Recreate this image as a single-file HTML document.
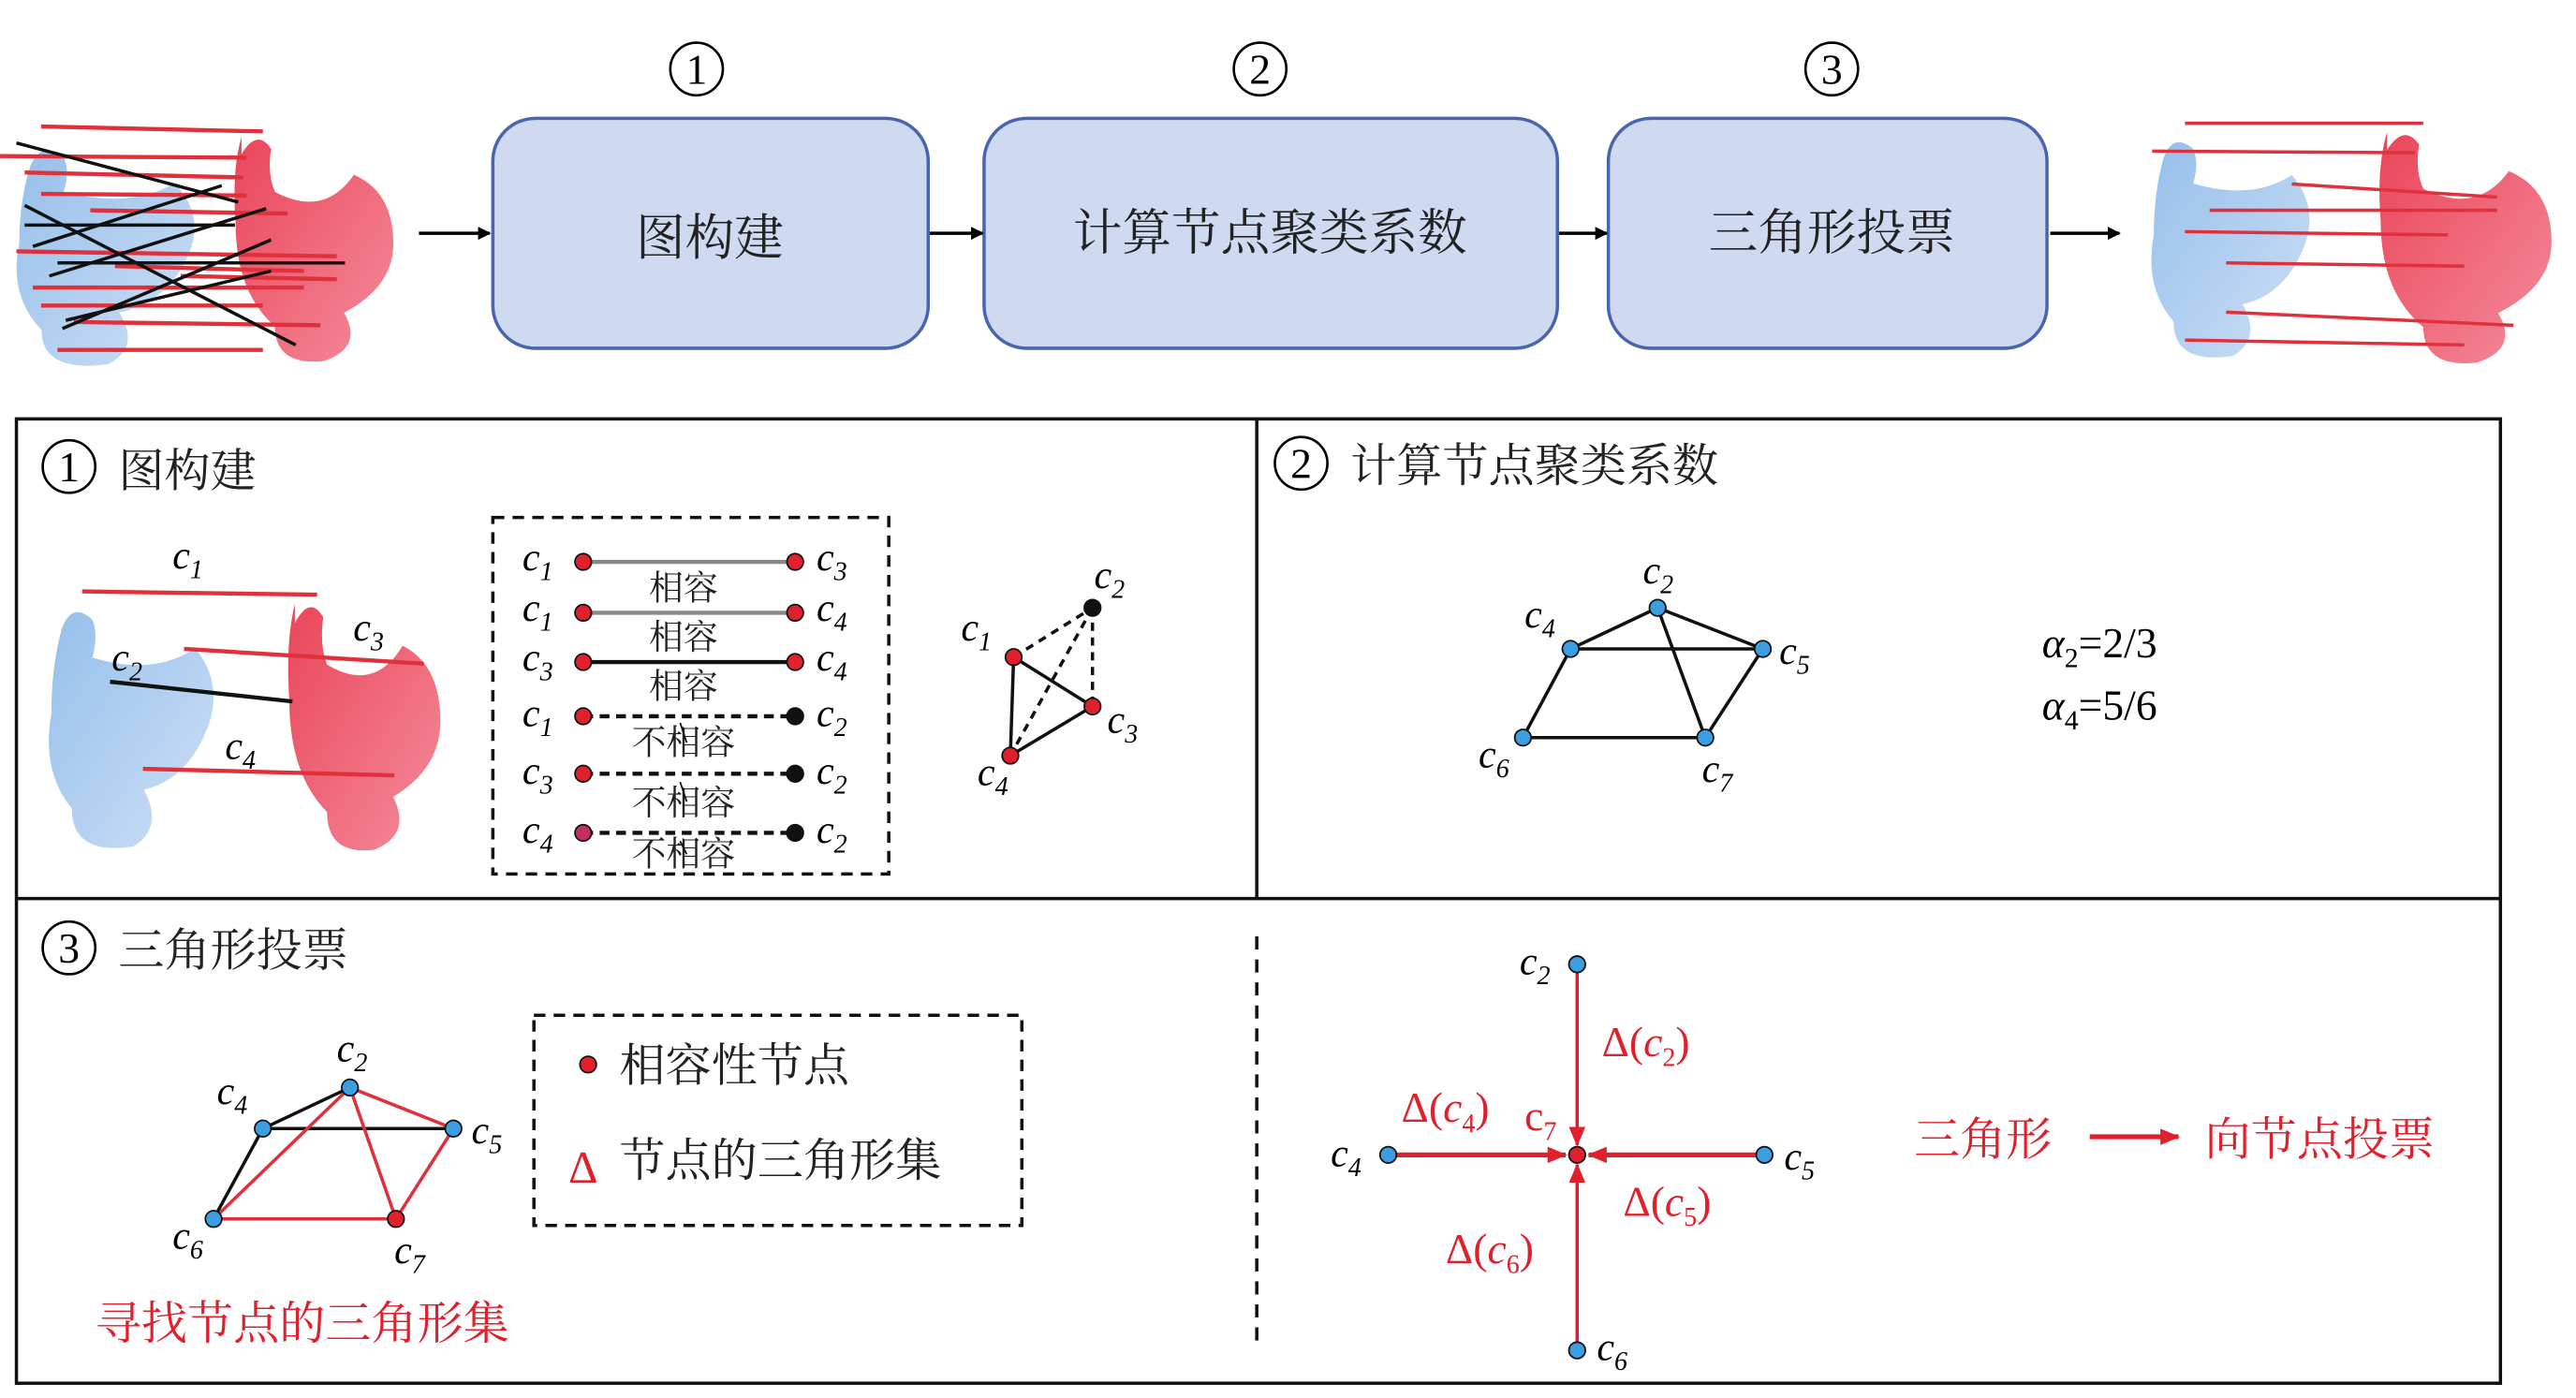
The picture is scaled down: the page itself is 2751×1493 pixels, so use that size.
<!DOCTYPE html>
<html><head><meta charset="utf-8"><style>
html,body{margin:0;padding:0;background:#fff;}
svg{display:block;}
text{font-family:"Liberation Serif","Noto Serif CJK SC",serif;}
.cj{font-family:"Liberation Serif","Noto Serif CJK SC",serif;}
.it{font-style:italic;}
</style></head><body>
<svg width="2751" height="1493" viewBox="0 0 1568 851" preserveAspectRatio="none" xmlns="http://www.w3.org/2000/svg">
<defs>
<marker id="ab" markerWidth="8" markerHeight="8" refX="7" refY="4" orient="auto" markerUnits="userSpaceOnUse"><path d="M0,0 L8,4 L0,8 Z" fill="#000"/></marker>
<marker id="ar" markerWidth="12" markerHeight="10" refX="11" refY="5" orient="auto" markerUnits="userSpaceOnUse"><path d="M0,0 L12,5 L0,10 Z" fill="#e0202c"/></marker>
<linearGradient id="gb" x1="0" y1="0" x2="1" y2="1"><stop offset="0" stop-color="#8ab8e8"/><stop offset="1" stop-color="#c8dcf4"/></linearGradient>
<linearGradient id="gr" x1="0" y1="0" x2="1" y2="1"><stop offset="0" stop-color="#e83048"/><stop offset="1" stop-color="#f28090"/></linearGradient>
<g id="chb"><path d="M10,20 q5,-15 15,-5 q3,8 0,20 q30,10 50,-5 q15,20 5,45 q-10,25 -30,30 q10,20 -5,30 q-30,5 -30,-20 q-15,-20 -10,-50 q0,-25 5,-45z" fill="url(#gb)" opacity="0.9"/></g>
<g id="chr"><path d="M10,15 q8,-15 15,-3 q-2,15 2,25 q25,15 40,-10 q20,10 20,40 q0,25 -25,40 q10,20 -10,28 q-25,3 -25,-20 q-20,-20 -20,-60 q-2,-30 3,-50z" fill="url(#gr)" opacity="0.9"/></g>
</defs>

<!-- TOP ROW -->
<g font-size="26" text-anchor="middle">
<circle cx="424" cy="42" r="16" fill="none" stroke="#000" stroke-width="1.5"/><text x="424" y="51">1</text>
<circle cx="767" cy="42" r="16" fill="none" stroke="#000" stroke-width="1.5"/><text x="767" y="51">2</text>
<circle cx="1115" cy="42" r="16" fill="none" stroke="#000" stroke-width="1.5"/><text x="1115" y="51">3</text>
</g>
<g fill="#cfdaf1" stroke="#4a64ad" stroke-width="2">
<rect x="300" y="72" width="265" height="140" rx="26"/>
<rect x="599" y="72" width="349" height="140" rx="26"/>
<rect x="979" y="72" width="267" height="140" rx="26"/>
</g>
<g class="cj" font-size="30" text-anchor="middle" fill="#222">
<text x="432" y="155">图构建</text>
<text x="773" y="152">计算节点聚类系数</text>
<text x="1115" y="152">三角形投票</text>
</g>
<g stroke="#000" stroke-width="2" marker-end="url(#ab)">
<line x1="255" y1="142" x2="298" y2="142"/>
<line x1="566" y1="142" x2="598" y2="142"/>
<line x1="949" y1="142" x2="978" y2="142"/>
<line x1="1248" y1="142" x2="1290" y2="142"/>
</g>

<!-- left chickens top -->
<use href="#chb" transform="translate(5,80) scale(1.35,1.05)"/>
<use href="#chr" transform="translate(135,78) scale(1.2,1.05)"/>
<g stroke="#e0303c" stroke-width="2.5">
<line x1="25" y1="77" x2="160" y2="80"/><line x1="0" y1="95" x2="150" y2="96"/>
<line x1="15" y1="105" x2="148" y2="108"/><line x1="25" y1="118" x2="150" y2="119"/>
<line x1="55" y1="128" x2="175" y2="130"/><line x1="10" y1="153" x2="205" y2="156"/>
<line x1="70" y1="162" x2="185" y2="165"/><line x1="20" y1="175" x2="185" y2="175"/>
<line x1="25" y1="186" x2="160" y2="186"/><line x1="45" y1="196" x2="195" y2="198"/>
<line x1="35" y1="213" x2="160" y2="213"/><line x1="110" y1="168" x2="205" y2="170"/>
</g>
<g stroke="#111" stroke-width="2">
<line x1="10" y1="87" x2="145" y2="123"/><line x1="15" y1="125" x2="180" y2="210"/>
<line x1="20" y1="150" x2="135" y2="113"/><line x1="15" y1="137" x2="143" y2="137"/>
<line x1="30" y1="168" x2="162" y2="127"/><line x1="35" y1="160" x2="210" y2="160"/>
<line x1="38" y1="200" x2="165" y2="146"/><line x1="40" y1="195" x2="165" y2="165"/>
</g>

<!-- right chickens top -->
<use href="#chb" transform="translate(1305,75) scale(1.2,1.05)"/>
<use href="#chr" transform="translate(1440,75) scale(1.3,1.08)"/>
<g stroke="#e0303c" stroke-width="2">
<line x1="1330" y1="75" x2="1475" y2="75"/><line x1="1310" y1="92" x2="1470" y2="93"/>
<line x1="1395" y1="112" x2="1520" y2="120"/><line x1="1345" y1="128" x2="1520" y2="128"/>
<line x1="1330" y1="141" x2="1490" y2="143"/><line x1="1355" y1="160" x2="1500" y2="162"/>
<line x1="1355" y1="190" x2="1530" y2="198"/><line x1="1330" y1="207" x2="1500" y2="210"/>
</g>

<!-- BOTTOM FRAME -->
<rect x="10" y="255" width="1512" height="587" fill="none" stroke="#111" stroke-width="2"/>
<line x1="765" y1="255" x2="765" y2="547" stroke="#111" stroke-width="2"/>
<line x1="10" y1="547" x2="1522" y2="547" stroke="#111" stroke-width="2"/>
<line x1="765" y1="570" x2="765" y2="820" stroke="#111" stroke-width="2" stroke-dasharray="8,6"/>

<!-- Panel 1 -->
<circle cx="42" cy="284" r="16" fill="none" stroke="#000" stroke-width="1.5"/><text x="42" y="293" font-size="26" text-anchor="middle">1</text>
<text class="cj" x="72" y="296" font-size="28" fill="#222">图构建</text>
<use href="#chb" transform="translate(25,360) scale(1.25,1.15)"/>
<use href="#chr" transform="translate(168,362) scale(1.15,1.15)"/>
<g stroke="#e0303c" stroke-width="2.5">
<line x1="50" y1="360" x2="193" y2="362"/><line x1="112" y1="395" x2="258" y2="404"/><line x1="87" y1="468" x2="240" y2="472"/>
</g>
<line x1="67" y1="415" x2="178" y2="427" stroke="#111" stroke-width="2.5"/>
<g font-size="24" class="it">
<text x="105" y="346">c<tspan font-size="16" dy="6">1</tspan></text>
<text x="68" y="408">c<tspan font-size="16" dy="6">2</tspan></text>
<text x="215" y="390">c<tspan font-size="16" dy="6">3</tspan></text>
<text x="137" y="462">c<tspan font-size="16" dy="6">4</tspan></text>
</g>
<rect x="300" y="315" width="241" height="217" fill="none" stroke="#111" stroke-width="2" stroke-dasharray="7,5"/>
<g stroke-width="2.5">
<line x1="355" y1="342" x2="484" y2="342" stroke="#888"/>
<line x1="355" y1="373" x2="484" y2="373" stroke="#888"/>
<line x1="355" y1="403" x2="484" y2="403" stroke="#111"/>
<line x1="355" y1="436" x2="484" y2="436" stroke="#111" stroke-dasharray="6,4"/>
<line x1="355" y1="471" x2="484" y2="471" stroke="#111" stroke-dasharray="6,4"/>
<line x1="355" y1="507" x2="484" y2="507" stroke="#111" stroke-dasharray="6,4"/>
</g>
<g stroke="#111" stroke-width="1">
<circle cx="355" cy="342" r="5" fill="#e0202c"/><circle cx="484" cy="342" r="5" fill="#e0202c"/>
<circle cx="355" cy="373" r="5" fill="#e0202c"/><circle cx="484" cy="373" r="5" fill="#e0202c"/>
<circle cx="355" cy="403" r="5" fill="#e0202c"/><circle cx="484" cy="403" r="5" fill="#e0202c"/>
<circle cx="355" cy="436" r="5" fill="#e0202c"/><circle cx="484" cy="436" r="5" fill="#111"/>
<circle cx="355" cy="471" r="5" fill="#e0202c"/><circle cx="484" cy="471" r="5" fill="#111"/>
<circle cx="355" cy="507" r="5" fill="#c03060"/><circle cx="484" cy="507" r="5" fill="#111"/>
</g>
<g font-size="24" class="it">
<text x="318" y="347">c<tspan font-size="16" dy="6">1</tspan></text><text x="497" y="347">c<tspan font-size="16" dy="6">3</tspan></text>
<text x="318" y="378">c<tspan font-size="16" dy="6">1</tspan></text><text x="497" y="378">c<tspan font-size="16" dy="6">4</tspan></text>
<text x="318" y="408">c<tspan font-size="16" dy="6">3</tspan></text><text x="497" y="408">c<tspan font-size="16" dy="6">4</tspan></text>
<text x="318" y="442">c<tspan font-size="16" dy="6">1</tspan></text><text x="497" y="442">c<tspan font-size="16" dy="6">2</tspan></text>
<text x="318" y="477">c<tspan font-size="16" dy="6">3</tspan></text><text x="497" y="477">c<tspan font-size="16" dy="6">2</tspan></text>
<text x="318" y="513">c<tspan font-size="16" dy="6">4</tspan></text><text x="497" y="513">c<tspan font-size="16" dy="6">2</tspan></text>
</g>
<g class="cj" font-size="21" text-anchor="middle" fill="#222">
<text x="416" y="365">相容</text><text x="416" y="395">相容</text><text x="416" y="425">相容</text>
<text x="416" y="459">不相容</text><text x="416" y="496">不相容</text><text x="416" y="527">不相容</text>
</g>
<g stroke="#111" stroke-width="1"><line x1="414" y1="440" x2="418" y2="452"/><line x1="414" y1="476" x2="418" y2="488"/><line x1="414" y1="512" x2="418" y2="520"/></g>
<!-- triangle -->
<g stroke="#111" stroke-width="2">
<line x1="617" y1="400" x2="665" y2="430"/><line x1="665" y1="430" x2="615" y2="460"/><line x1="617" y1="400" x2="615" y2="460"/>
<g stroke-dasharray="5,4"><line x1="617" y1="400" x2="665" y2="370"/><line x1="665" y1="370" x2="665" y2="430"/><line x1="665" y1="370" x2="615" y2="460"/></g>
</g>
<g stroke="#111" stroke-width="1">
<circle cx="665" cy="370" r="5" fill="#111"/><circle cx="617" cy="400" r="5" fill="#e0202c"/>
<circle cx="665" cy="430" r="5" fill="#e0202c"/><circle cx="615" cy="460" r="5" fill="#e0202c"/>
</g>
<g font-size="24" class="it">
<text x="666" y="358">c<tspan font-size="16" dy="6">2</tspan></text>
<text x="585" y="390">c<tspan font-size="16" dy="6">1</tspan></text>
<text x="674" y="446">c<tspan font-size="16" dy="6">3</tspan></text>
<text x="595" y="478">c<tspan font-size="16" dy="6">4</tspan></text>
</g>

<!-- Panel 2 -->
<circle cx="792" cy="282" r="16" fill="none" stroke="#000" stroke-width="1.5"/><text x="792" y="291" font-size="26" text-anchor="middle">2</text>
<text class="cj" x="822" y="293" font-size="28" fill="#222">计算节点聚类系数</text>
<g stroke="#111" stroke-width="2">
<line x1="956" y1="395" x2="1009" y2="370"/><line x1="1009" y1="370" x2="1073" y2="395"/><line x1="956" y1="395" x2="1073" y2="395"/>
<line x1="956" y1="395" x2="927" y2="449"/><line x1="927" y1="449" x2="1038" y2="449"/><line x1="1038" y1="449" x2="1073" y2="395"/><line x1="1009" y1="370" x2="1038" y2="449"/>
</g>
<g fill="#3b9ee0" stroke="#111" stroke-width="1">
<circle cx="1009" cy="370" r="5"/><circle cx="956" cy="395" r="5"/><circle cx="1073" cy="395" r="5"/><circle cx="927" cy="449" r="5"/><circle cx="1038" cy="449" r="5"/>
</g>
<g font-size="24" class="it">
<text x="1000" y="355">c<tspan font-size="16" dy="6">2</tspan></text>
<text x="928" y="382">c<tspan font-size="16" dy="6">4</tspan></text>
<text x="1083" y="404">c<tspan font-size="16" dy="6">5</tspan></text>
<text x="900" y="467">c<tspan font-size="16" dy="6">6</tspan></text>
<text x="1036" y="476">c<tspan font-size="16" dy="6">7</tspan></text>
</g>
<g font-size="26">
<text x="1243" y="400"><tspan class="it">α</tspan><tspan font-size="17" dy="6">2</tspan><tspan dy="-6">=2/3</tspan></text>
<text x="1243" y="438"><tspan class="it">α</tspan><tspan font-size="17" dy="6">4</tspan><tspan dy="-6">=5/6</tspan></text>
</g>

<!-- Panel 3 -->
<circle cx="42" cy="577" r="16" fill="none" stroke="#000" stroke-width="1.5"/><text x="42" y="586" font-size="26" text-anchor="middle">3</text>
<text class="cj" x="72" y="588" font-size="28" fill="#222">三角形投票</text>
<g stroke-width="2">
<line x1="160" y1="687" x2="213" y2="662" stroke="#111"/><line x1="160" y1="687" x2="276" y2="687" stroke="#111"/><line x1="160" y1="687" x2="130" y2="742" stroke="#111"/>
<g stroke="#e0303c"><line x1="213" y1="662" x2="276" y2="687"/><line x1="213" y1="662" x2="130" y2="742"/><line x1="213" y1="662" x2="241" y2="742"/><line x1="130" y1="742" x2="241" y2="742"/><line x1="276" y1="687" x2="241" y2="742"/></g>
</g>
<g stroke="#111" stroke-width="1">
<circle cx="213" cy="662" r="5" fill="#3b9ee0"/><circle cx="160" cy="687" r="5" fill="#3b9ee0"/><circle cx="276" cy="687" r="5" fill="#3b9ee0"/><circle cx="130" cy="742" r="5" fill="#3b9ee0"/><circle cx="241" cy="742" r="5" fill="#e0202c"/>
</g>
<g font-size="24" class="it">
<text x="205" y="646">c<tspan font-size="16" dy="6">2</tspan></text>
<text x="132" y="672">c<tspan font-size="16" dy="6">4</tspan></text>
<text x="287" y="696">c<tspan font-size="16" dy="6">5</tspan></text>
<text x="105" y="760">c<tspan font-size="16" dy="6">6</tspan></text>
<text x="240" y="769">c<tspan font-size="16" dy="6">7</tspan></text>
</g>
<text class="cj" x="58" y="815" font-size="28" fill="#e0202c">寻找节点的三角形集</text>
<rect x="325" y="618" width="297" height="128" fill="none" stroke="#111" stroke-width="2" stroke-dasharray="7,5"/>
<circle cx="358" cy="648" r="5" fill="#e0202c" stroke="#111" stroke-width="1"/>
<text class="cj" x="377" y="658" font-size="28" fill="#222">相容性节点</text>
<text x="346" y="720" font-size="28" fill="#e0202c">Δ</text>
<text class="cj" x="377" y="716" font-size="28" fill="#222">节点的三角形集</text>

<g stroke="#e0202c" stroke-width="2" marker-end="url(#ar)">
<line x1="960" y1="587" x2="960" y2="697"/>
<line x1="960" y1="822" x2="960" y2="709"/>
<line x1="845" y1="703" x2="953" y2="703" stroke-width="3"/>
<line x1="1074" y1="703" x2="967" y2="703" stroke-width="3"/>
</g>
<g fill="#3b9ee0" stroke="#111" stroke-width="1">
<circle cx="960" cy="587" r="5"/><circle cx="845" cy="703" r="5"/><circle cx="1074" cy="703" r="5"/><circle cx="960" cy="822" r="5"/>
</g>
<circle cx="960" cy="703" r="5" fill="#e0202c" stroke="#111" stroke-width="1"/>
<g font-size="24" class="it">
<text x="925" y="593">c<tspan font-size="16" dy="6">2</tspan></text>
<text x="810" y="710">c<tspan font-size="16" dy="6">4</tspan></text>
<text x="1086" y="712">c<tspan font-size="16" dy="6">5</tspan></text>
<text x="972" y="828">c<tspan font-size="16" dy="6">6</tspan></text>
</g>
<g font-size="26" fill="#e0202c">
<text x="975" y="643">Δ(<tspan class="it">c</tspan><tspan font-size="16" dy="6">2</tspan><tspan dy="-6">)</tspan></text>
<text x="853" y="683">Δ(<tspan class="it">c</tspan><tspan font-size="16" dy="6">4</tspan><tspan dy="-6">)</tspan></text>
<text x="928" y="688">c<tspan font-size="16" dy="6">7</tspan></text>
<text x="988" y="740">Δ(<tspan class="it">c</tspan><tspan font-size="16" dy="6">5</tspan><tspan dy="-6">)</tspan></text>
<text x="880" y="769">Δ(<tspan class="it">c</tspan><tspan font-size="16" dy="6">6</tspan><tspan dy="-6">)</tspan></text>
</g>
<text class="cj" x="1165" y="703" font-size="28" fill="#e0202c">三角形</text>
<line x1="1272" y1="692" x2="1326" y2="692" stroke="#e0202c" stroke-width="3" marker-end="url(#ar)"/>
<text class="cj" x="1342" y="703" font-size="28" fill="#e0202c">向节点投票</text>
</svg>
</body></html>
